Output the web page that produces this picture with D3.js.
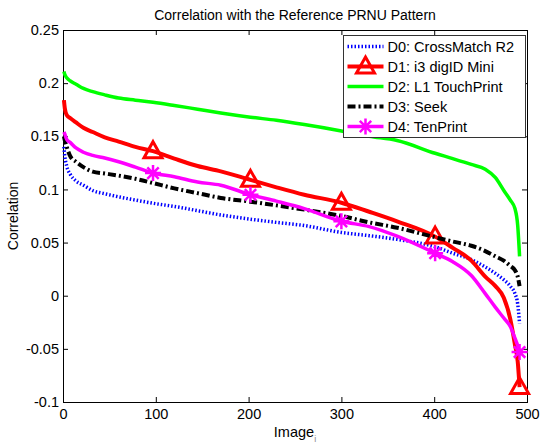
<!DOCTYPE html>
<html>
<head>
<meta charset="utf-8">
<script src="https://cdn.jsdelivr.net/npm/d3@7/dist/d3.min.js"></script>
<style>
    body { margin: 0; background: #fff; }
    svg { display: block; font-family: "Liberation Sans", Arial, Helvetica, sans-serif; }
</style>
</head>
<body>
<div id="chart"></div>
<script>
// image index (sorted by correlation) at which values were read
const imageIdx = [1, 2, 4, 8, 14, 22, 32, 45, 60, 78, 97, 120, 145, 170, 202, 230, 260, 300, 330, 360, 401, 420, 440, 455, 466, 475, 482, 487, 490, 492];

const d0CrossMatch = [0.140, 0.131, 0.122, 0.114, 0.108, 0.104, 0.099, 0.096, 0.093, 0.090, 0.087, 0.084, 0.080, 0.076, 0.072, 0.069, 0.066, 0.0595, 0.0565, 0.053, 0.046, 0.040, 0.034, 0.027, 0.021, 0.015, 0.009, 0.002, -0.008, -0.026];
const d1DigID = [0.184, 0.176, 0.170, 0.167, 0.163, 0.158, 0.154, 0.149, 0.145, 0.140, 0.136, 0.129, 0.122, 0.117, 0.109, 0.102, 0.095, 0.0875, 0.079, 0.070, 0.0556, 0.045, 0.033, 0.018, 0.009, -0.002, -0.022, -0.046, -0.062, -0.086];
const d2TouchPrint = [0.211, 0.208, 0.205, 0.202, 0.199, 0.195, 0.192, 0.189, 0.186, 0.184, 0.182, 0.179, 0.1755, 0.172, 0.168, 0.165, 0.161, 0.155, 0.150, 0.146, 0.134, 0.129, 0.1235, 0.119, 0.111, 0.099, 0.090, 0.082, 0.066, 0.037];
const d3Seek = [0.150, 0.146, 0.140, 0.131, 0.126, 0.121, 0.1167, 0.115, 0.113, 0.110, 0.106, 0.101, 0.0965, 0.092, 0.0885, 0.085, 0.081, 0.075, 0.069, 0.064, 0.055, 0.051, 0.047, 0.042, 0.037, 0.033, 0.028, 0.024, 0.018, 0.009];
const d4TenPrint = [0.154, 0.152, 0.147, 0.144, 0.139, 0.135, 0.132, 0.1295, 0.126, 0.121, 0.1154, 0.112, 0.107, 0.104, 0.095, 0.089, 0.082, 0.070, 0.065, 0.056, 0.040, 0.032, 0.019, 0.002, -0.011, -0.021, -0.029, -0.040, -0.047, -0.053];

const markerIdx = [97, 202, 300, 401, 492];

const seriesNames = ['D0: CrossMatch R2', 'D1: i3 digID Mini', 'D2: L1 TouchPrint', 'D3: Seek', 'D4: TenPrint'];

const xTicks = [0, 100, 200, 300, 400, 500];
const yTicks = [-0.1, -0.05, 0, 0.05, 0.1, 0.15, 0.2, 0.25];
const yTickLabels = ['-0.1', '-0.05', '0', '0.05', '0.1', '0.15', '0.2', '0.25'];

const titleText = 'Correlation with the Reference PRNU Pattern';

const width = 540,
    height = 446,
    plot = { left: 63, right: 527, top: 30, bottom: 402 };

const svg = d3.select('#chart').append('svg')
    .attr('width', width)
    .attr('height', height);

const x = d3.scaleLinear().domain([0, 500]).range([plot.left, plot.right]);
const y = d3.scaleLinear().domain([-0.1, 0.25]).range([plot.bottom, plot.top]);

// axes, ticks pointing inwards on every side
const axisStyle = g => {
    g.select('.domain').remove();
    g.selectAll('.tick line').attr('stroke', '#000');
    g.selectAll('.tick text').attr('fill', '#000').style('font-size', '14.5px');
};

svg.append('g')
    .attr('transform', 'translate(0,' + plot.bottom + ')')
    .call(d3.axisBottom(x).tickValues(xTicks).tickFormat(d3.format('d')).tickSizeInner(-5).tickSizeOuter(0).tickPadding(7))
    .call(axisStyle);

svg.append('g')
    .attr('transform', 'translate(0,' + plot.top + ')')
    .call(d3.axisTop(x).tickValues(xTicks).tickFormat('').tickSizeInner(-5).tickSizeOuter(0))
    .call(axisStyle);

svg.append('g')
    .attr('transform', 'translate(' + plot.left + ',0)')
    .call(d3.axisLeft(y).tickValues(yTicks).tickFormat((d, i) => yTickLabels[i]).tickSizeInner(-5).tickSizeOuter(0).tickPadding(4))
    .call(axisStyle);

svg.append('g')
    .attr('transform', 'translate(' + plot.right + ',0)')
    .call(d3.axisRight(y).tickValues(yTicks).tickFormat('').tickSizeInner(-5).tickSizeOuter(0))
    .call(axisStyle);

svg.append('rect')
    .attr('x', plot.left + 0.5)
    .attr('y', plot.top + 0.5)
    .attr('width', plot.right - plot.left)
    .attr('height', plot.bottom - plot.top)
    .attr('fill', 'none')
    .attr('stroke', '#000');

// series
const styles = [
    { color: '#0000ff', width: 3.5, dash: '1.5,2', marker: null },
    { color: '#ff0000', width: 4, dash: null, marker: 'triangle' },
    { color: '#00ff00', width: 3.5, dash: null, marker: null },
    { color: '#000000', width: 4, dash: '8,3,2,3', marker: null },
    { color: '#ff00ff', width: 3.5, dash: null, marker: 'star' }
];

const allValues = [d0CrossMatch, d1DigID, d2TouchPrint, d3Seek, d4TenPrint];

const line = d3.line()
    .curve(d3.curveMonotoneX)
    .x(d => x(d[0]))
    .y(d => y(d[1]));

const triPath = 'M0,-9.5L9,6.5L-9,6.5Z';
const starPath = 'M0,-8V8M-8,0H8M-5.7,-5.7L5.7,5.7M-5.7,5.7L5.7,-5.7';

function drawMarker(g, type, cx, cy, color) {
    if (type === 'triangle') {
        g.append('path')
            .attr('d', triPath)
            .attr('transform', 'translate(' + cx + ',' + cy + ')')
            .attr('fill', 'none')
            .attr('stroke', color)
            .attr('stroke-width', 3)
            .attr('stroke-linejoin', 'miter');
    } else if (type === 'star') {
        g.append('path')
            .attr('d', starPath)
            .attr('transform', 'translate(' + cx + ',' + cy + ')')
            .attr('fill', 'none')
            .attr('stroke', color)
            .attr('stroke-width', 2.5);
    }
}

const lines = svg.append('g');

allValues.forEach((vals, i) => {
    const st = styles[i],
        pts = imageIdx.map((k, j) => [k, vals[j]]);

    lines.append('path')
        .datum(pts)
        .attr('d', line)
        .attr('fill', 'none')
        .attr('stroke', st.color)
        .attr('stroke-width', st.width)
        .attr('stroke-linejoin', 'round')
        .attr('stroke-dasharray', st.dash);

    if (st.marker) {
        pts.filter(p => markerIdx.includes(p[0]))
            .forEach(p => drawMarker(lines, st.marker, x(p[0]), y(p[1]), st.color));
    }
});

// legend
const legend = svg.append('g').attr('transform', 'translate(343.5, 35.5)');

legend.append('rect')
    .attr('width', 182)
    .attr('height', 102)
    .attr('fill', '#fff')
    .attr('stroke', '#333');

seriesNames.forEach((name, i) => {
    const st = styles[i],
        ly = 11 + i * 20;

    legend.append('line')
        .attr('x1', 4).attr('x2', 40)
        .attr('y1', ly).attr('y2', ly)
        .attr('stroke', st.color)
        .attr('stroke-width', st.width)
        .attr('stroke-dasharray', st.dash);

    drawMarker(legend, st.marker, 22, ly, st.color);

    legend.append('text')
        .attr('x', 44)
        .attr('y', ly)
        .attr('dy', '0.36em')
        .style('font-size', '14.5px')
        .text(name);
});

// labels
svg.append('text')
    .attr('x', (plot.left + plot.right) / 2)
    .attr('y', 20)
    .attr('text-anchor', 'middle')
    .style('font-size', '14px')
    .text(titleText);

const xl = svg.append('text')
    .attr('x', (plot.left + plot.right) / 2)
    .attr('y', 437)
    .attr('text-anchor', 'middle')
    .style('font-size', '14.5px');
xl.append('tspan').text('Image');
xl.append('tspan')
    .attr('dy', 5)
    .attr('fill', '#888')
    .style('font-size', '9px')
    .text('i');

svg.append('text')
    .attr('transform', 'translate(18,' + (plot.top + plot.bottom) / 2 + ') rotate(-90)')
    .attr('text-anchor', 'middle')
    .style('font-size', '14px')
    .text('Correlation');
</script>
</body>
</html>
